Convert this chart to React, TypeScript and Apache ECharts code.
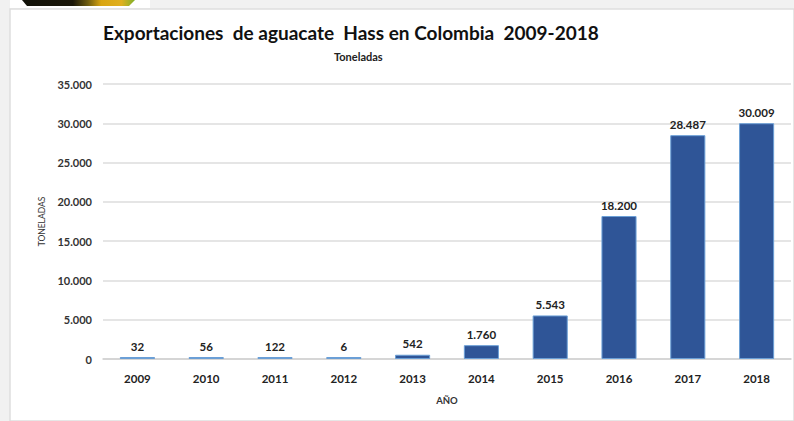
import React, { useEffect, useRef } from "react";
import * as echarts from "echarts";

const categories = ["2009", "2010", "2011", "2012", "2013", "2014", "2015", "2016", "2017", "2018"];
const exportValues = [32, 56, 122, 6, 542, 1760, 5543, 18200, 28487, 30009];
const titleText = "Exportaciones  de aguacate  Hass en Colombia  2009-2018";
const subtitleText = "Toneladas";
const yAxisName = "TONELADAS";
const xAxisName = "AÑO";

const fmt = (v: number) => String(v).replace(/\B(?=(\d{3})+(?!\d))/g, ".");

const FONT = "Lato, 'Open Sans', sans-serif";

export default function App() {
  const ref = useRef<HTMLDivElement>(null);
  useEffect(() => {
    if (!ref.current) return;
    const chart = echarts.init(ref.current, null, { renderer: "svg" });
    chart.setOption({
      animation: false,
      backgroundColor: "#ffffff",
      textStyle: { fontFamily: FONT },
      graphic: [
        { type: "rect", z: -10, silent: true, shape: { x: 0, y: 0, width: 794, height: 421 }, style: { fill: "#f1f1f1" } },
        { type: "rect", z: -9, silent: true, shape: { x: 10, y: 9, width: 784, height: 412 }, style: { fill: "#ffffff", stroke: "#dedede", lineWidth: 1.5 } },
        { type: "rect", z: -9, silent: true, shape: { x: 10, y: 0, width: 140, height: 8 }, style: { fill: "#ffffff" } },
        {
          type: "polygon",
          z: -8,
          silent: true,
          shape: { points: [[22, 0], [135, 0], [129, 6], [27, 6]] },
          style: {
            fill: new echarts.graphic.LinearGradient(0, 0, 1, 0, [
              { offset: 0, color: "#111108" },
              { offset: 0.45, color: "#1a1608" },
              { offset: 0.58, color: "#6b5a10" },
              { offset: 0.7, color: "#d9a512" },
              { offset: 0.88, color: "#e0b020" },
              { offset: 1, color: "#7fb02a" },
            ]),
          },
        },
        {
          type: "text",
          left: 103,
          top: 23,
          style: { text: titleText, font: `bold 19px ${FONT}`, fill: "#111111" },
        },
        {
          type: "text",
          left: 334,
          top: 51,
          style: { text: subtitleText, font: `bold 11px ${FONT}`, fill: "#222222" },
        },
      ],
      grid: { left: 103, right: 3, top: 84, bottom: 62 },
      xAxis: {
        type: "category",
        data: categories,
        name: xAxisName,
        nameLocation: "middle",
        nameGap: 36,
        nameTextStyle: { fontSize: 9.5, fontWeight: "bold", color: "#333333" },
        axisLine: { lineStyle: { color: "#d0d0d0", width: 1.5 } },
        axisTick: { show: false },
        axisLabel: { fontSize: 11.5, fontWeight: "bold", color: "#222222", margin: 13 },
      },
      yAxis: {
        type: "value",
        min: 0,
        max: 35000,
        interval: 5000,
        name: yAxisName,
        nameLocation: "middle",
        nameRotate: 90,
        nameGap: 51,
        nameTextStyle: { fontSize: 8.5, color: "#333333" },
        axisLine: { show: false },
        axisTick: { show: false },
        splitLine: { lineStyle: { color: "#dcdcdc", width: 1.5 } },
        axisLabel: { fontSize: 11, fontWeight: "bold", color: "#333333", margin: 11, formatter: (v: number) => fmt(v) },
      },
      series: [
        {
          type: "bar",
          data: exportValues,
          barWidth: "51%",
          barMinHeight: 2,
          itemStyle: { color: "#2f5597", borderColor: "#6b9fd6", borderWidth: 1 },
          label: {
            show: true,
            position: "top",
            distance: 5,
            fontSize: 11.5,
            fontWeight: "bold",
            color: "#222222",
            formatter: (p: any) => fmt(p.value),
          },
        },
      ],
    });
    return () => chart.dispose();
  }, []);
  return <div ref={ref} style={{ position: "fixed", left: 0, top: 0, width: 794, height: 421 }} />;
}
